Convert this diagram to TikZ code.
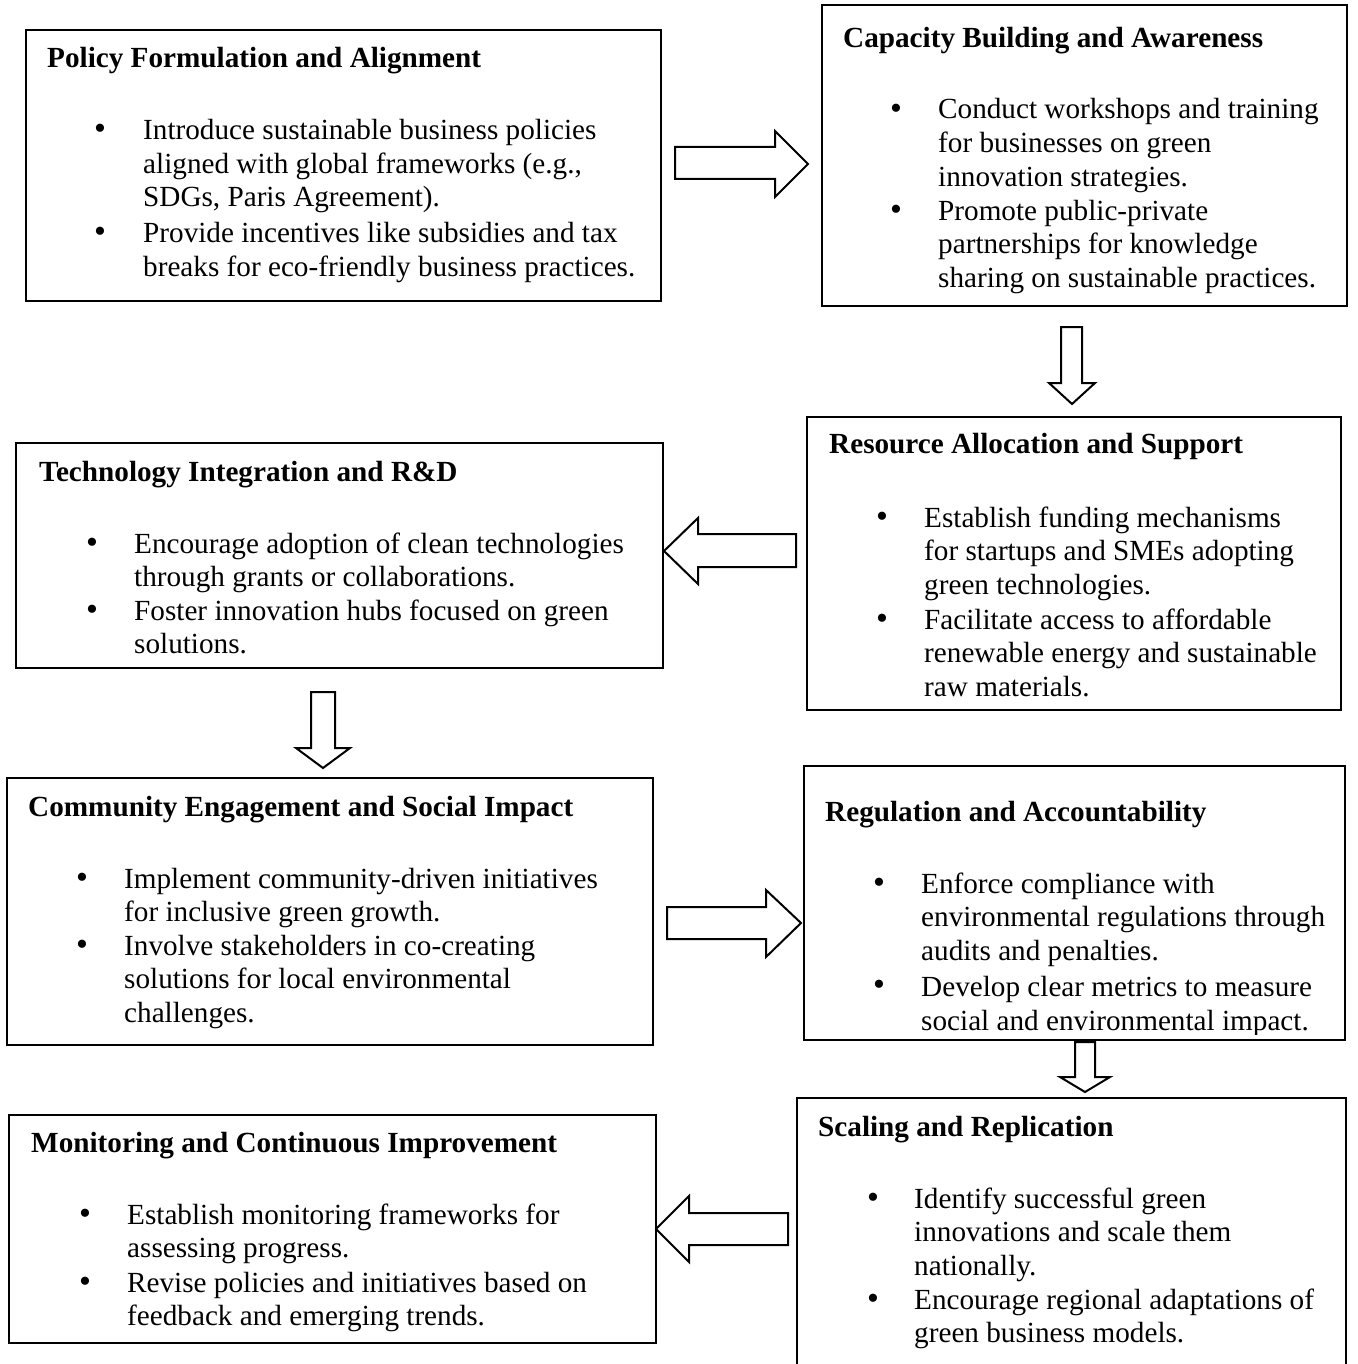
\documentclass[tikz,border=0pt]{standalone}
\usepackage{fontspec}
\setmainfont{Liberation Serif}
\begin{document}
\begin{tikzpicture}[x=1pt,y=-1pt,
  box/.style={draw=black, line width=2pt, rectangle, anchor=north west, inner sep=0pt, outer sep=0pt},
  ttl/.style={anchor=base west, inner sep=0pt, font=\fontsize{29.2}{33.7}\selectfont\bfseries},
  itm/.style={anchor=base west, inner sep=0pt, align=left, font=\fontsize{29.2}{33.7}\selectfont},
  bul/.style={anchor=center, inner sep=0pt, yshift=7.5pt, font=\fontsize{34}{40}\selectfont},
  barrow/.style={draw=black, line width=2pt, fill=white, line join=miter}]
\useasboundingbox (0,0) rectangle (1357,1364);

% boxes
\node[box, minimum width=635pt, minimum height=271pt] (b1) at (26,30) {};
\node[box, minimum width=525pt, minimum height=301pt] (b2) at (822,5) {};
\node[box, minimum width=534pt, minimum height=293pt] (b3) at (807,417) {};
\node[box, minimum width=647pt, minimum height=225pt] (b4) at (16,443) {};
\node[box, minimum width=646pt, minimum height=267pt] (b5) at (7,778) {};
\node[box, minimum width=541pt, minimum height=274pt] (b6) at (804,766) {};
\node[box, minimum width=549pt, minimum height=290pt] (b7) at (797,1098) {};
\node[box, minimum width=647pt, minimum height=228pt] (b8) at (9,1115) {};

% note: item nodes are placed by the baseline of their LAST line;
% bullets are placed at the baseline of the first line (raised by yshift)
% box 1
\node[ttl] (t1) at (47,68) {Policy Formulation and Alignment};
\node[bul] (d1a) at (100,139.5) {•};
\node[itm] (i1a) at (143,206.9) {Introduce sustainable business policies\\aligned with global frameworks (e.g.,\\SDGs, Paris Agreement).};
\node[bul] (d1b) at (100,242.5) {•};
\node[itm] (i1b) at (143,276.2) {Provide incentives like subsidies and tax\\breaks for eco-friendly business practices.};

% box 2
\node[ttl] (t2) at (843,48) {Capacity Building and Awareness};
\node[bul] (d2a) at (896,119) {•};
\node[itm] (i2a) at (938,186.4) {Conduct workshops and training\\for businesses on green\\innovation strategies.};
\node[bul] (d2b) at (896,220) {•};
\node[itm] (i2b) at (938,287.4) {Promote public-private\\partnerships for knowledge\\sharing on sustainable practices.};

% box 3
\node[ttl] (t3) at (829,453) {Resource Allocation and Support};
\node[bul] (d3a) at (882,527) {•};
\node[itm] (i3a) at (924,594.4) {Establish funding mechanisms\\for startups and SMEs adopting\\green technologies.};
\node[bul] (d3b) at (882,629) {•};
\node[itm] (i3b) at (924,696.4) {Facilitate access to affordable\\renewable energy and sustainable\\raw materials.};

% box 4
\node[ttl] (t4) at (39,481) {Technology Integration and R\&D};
\node[bul] (d4a) at (92,553) {•};
\node[itm] (i4a) at (134,586.7) {Encourage adoption of clean technologies\\through grants or collaborations.};
\node[bul] (d4b) at (92,620) {•};
\node[itm] (i4b) at (134,653.7) {Foster innovation hubs focused on green\\solutions.};

% box 5
\node[ttl] (t5) at (28,816) {Community Engagement and Social Impact};
\node[bul] (d5a) at (82,888) {•};
\node[itm] (i5a) at (124,921.7) {Implement community-driven initiatives\\for inclusive green growth.};
\node[bul] (d5b) at (82,955) {•};
\node[itm] (i5b) at (124,1022.4) {Involve stakeholders in co-creating\\solutions for local environmental\\challenges.};

% box 6 (last line clipped by the box border)
\node[ttl] (t6) at (825,821) {Regulation and Accountability};
\node[bul] (d6a) at (879,893) {•};
\node[itm] (i6a) at (921,960.4) {Enforce compliance with\\environmental regulations through\\audits and penalties.};
\node[bul] (d6b) at (879,995) {•};
\begin{scope}
\clip (804,766) rectangle (1345,1034);
\node[itm] (i6b) at (921,1030) {Develop clear metrics to measure\\social and environmental impact.};
\end{scope}

% box 7
\node[ttl] (t7) at (818,1136) {Scaling and Replication};
\node[bul] (d7a) at (873,1208) {•};
\node[itm] (i7a) at (914,1275.4) {Identify successful green\\innovations and scale them\\nationally.};
\node[bul] (d7b) at (873,1309) {•};
\node[itm] (i7b) at (914,1342.7) {Encourage regional adaptations of\\green business models.};

% box 8
\node[ttl] (t8) at (31,1152) {Monitoring and Continuous Improvement};
\node[bul] (d8a) at (85,1224) {•};
\node[itm] (i8a) at (127,1257.7) {Establish monitoring frameworks for\\assessing progress.};
\node[bul] (d8b) at (85,1292) {•};
\node[itm] (i8b) at (127,1325.7) {Revise policies and initiatives based on\\feedback and emerging trends.};

% block arrows
\draw[barrow] (675,147) -- (775,147) -- (775,131) -- (808,164) -- (775,197) -- (775,179) -- (675,179) -- cycle;
\draw[barrow] (1061,327) -- (1082,327) -- (1082,383) -- (1095,383) -- (1072,404) -- (1049,383) -- (1061,383) -- cycle;
\draw[barrow] (664,551) -- (698,518) -- (698,534) -- (796,534) -- (796,567) -- (698,567) -- (698,584) -- cycle;
\draw[barrow] (311,692) -- (335,692) -- (335,748) -- (350,748) -- (323,768) -- (296,748) -- (311,748) -- cycle;
\draw[barrow] (667,907) -- (766,907) -- (766,890) -- (801,923) -- (766,957) -- (766,939) -- (667,939) -- cycle;
\draw[barrow] (1075,1042) -- (1095,1042) -- (1095,1077) -- (1110,1077) -- (1085,1092) -- (1060,1077) -- (1075,1077) -- cycle;
\draw[barrow] (656,1229) -- (689,1196) -- (689,1213) -- (788,1213) -- (788,1245) -- (689,1245) -- (689,1262) -- cycle;
\end{tikzpicture}
\end{document}
